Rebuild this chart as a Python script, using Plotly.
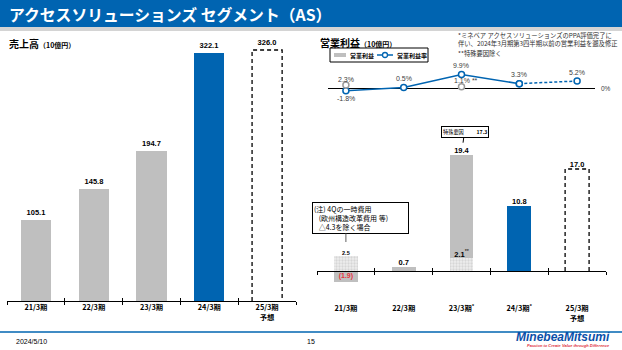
import plotly.graph_objects as go

# ---------------- data ----------------
categories = ["21/3期", "22/3期", "23/3期", "24/3期", "25/3期"]
sales_actual = [105.1, 145.8, 194.7, 322.1]
sales_forecast = 326.0

op_profit = [-1.9, 0.7, 19.4, 10.8]           # reported operating profit (actual)
op_forecast = 17.0
op_adjusted = [2.5, None, 2.1, None, None]     # excluding one-off / special factors (hatched)
special_factor_2303 = 17.3
op_margin = [-1.8, 0.5, 9.9, 3.3, 5.2]
op_margin_adjusted = [2.3, None, 1.1, None, None]

right_cat_labels = ["21/3期", "22/3期", "23/3期<sup>*</sup>", "24/3期<sup>*</sup>", "25/3期"]

# ---------------- style ----------------
W, H = 622, 350
GRAY = "#BFBFBF"
BLUE = "#0064B1"
NUMFONT = "Liberation Sans, Arial, sans-serif"
JPFONT = "Noto Sans CJK JP, sans-serif"


def X(px):
    return px / W


def Y(py):
    return 1 - py / H


idx = list(range(len(categories)))
bounds = [i - 0.5 for i in range(len(categories) + 1)]
fc_idx = len(categories) - 1

fig = go.Figure()

# ---------- left: sales ----------
LW = 0.52
fig.add_trace(go.Bar(
    x=idx[:4], y=sales_actual, width=LW,
    marker=dict(color=[GRAY, GRAY, GRAY, BLUE], line=dict(width=0)),
    text=[f"<b>{v:.1f}</b>" for v in sales_actual], textposition="outside",
    textfont=dict(size=7.5, color="black", family=NUMFONT),
    cliponaxis=False, xaxis="x", yaxis="y", showlegend=False))
fig.add_trace(go.Bar(
    x=[fc_idx], y=[sales_forecast], width=LW,
    marker=dict(color="rgba(0,0,0,0)", line=dict(width=0)),
    text=[f"<b>{sales_forecast:.1f}</b>"], textposition="outside",
    textfont=dict(size=7.5, color="black", family=NUMFONT),
    cliponaxis=False, xaxis="x", yaxis="y", showlegend=False))
fig.add_trace(go.Scatter(
    x=[fc_idx - LW / 2, fc_idx - LW / 2, fc_idx + LW / 2, fc_idx + LW / 2],
    y=[0, sales_forecast, sales_forecast, 0], mode="lines",
    line=dict(color="black", width=1.3, dash="4px,3px"),
    xaxis="x", yaxis="y", showlegend=False, hoverinfo="skip", cliponaxis=False))

# ---------- right: operating profit bars ----------
RW = 0.415
adj_x = [i for i, v in enumerate(op_adjusted) if v is not None]
adj_y = [v for v in op_adjusted if v is not None]
fig.add_trace(go.Bar(
    x=adj_x, y=adj_y, width=RW,
    marker=dict(color="#E6E6E6", line=dict(width=0),
                pattern=dict(shape=".", fgcolor="#BDBDBD", bgcolor="#EEEEEE", size=3, solidity=0.45)),
    xaxis="x4", yaxis="y4", showlegend=False))
gray_vals = [op_profit[0], op_profit[1], special_factor_2303]
fig.add_trace(go.Bar(
    x=[0, 1, 2], y=gray_vals, width=RW,
    marker=dict(color=GRAY, line=dict(width=0)),
    xaxis="x4", yaxis="y4", showlegend=False))
fig.add_trace(go.Bar(
    x=[3], y=[op_profit[3]], width=RW,
    marker=dict(color=BLUE, line=dict(width=0)),
    xaxis="x4", yaxis="y4", showlegend=False))
fig.add_trace(go.Scatter(
    x=[fc_idx - RW / 2, fc_idx - RW / 2, fc_idx + RW / 2, fc_idx + RW / 2],
    y=[0, op_forecast, op_forecast, 0], mode="lines",
    line=dict(color="black", width=1.3, dash="4px,3px"),
    xaxis="x4", yaxis="y4", showlegend=False, hoverinfo="skip", cliponaxis=False))

# value labels
lab_x = [1, 2, 3, 4]
lab_y = [op_profit[1], op_profit[2], op_profit[3], op_forecast]
fig.add_trace(go.Scatter(
    x=lab_x, y=lab_y, mode="text",
    text=[f"<b>{v:.1f}</b>" for v in lab_y], textposition="top center",
    textfont=dict(size=7.5, color="black", family=NUMFONT),
    xaxis="x4", yaxis="y4", showlegend=False, cliponaxis=False, hoverinfo="skip"))
fig.add_trace(go.Scatter(
    x=[0], y=[op_adjusted[0]], mode="text",
    text=[f"<b>{op_adjusted[0]:.1f}</b>"], textposition="top center",
    textfont=dict(size=5.5, color="black", family=NUMFONT),
    xaxis="x4", yaxis="y4", showlegend=False, cliponaxis=False, hoverinfo="skip"))
fig.add_trace(go.Scatter(
    x=[2], y=[op_adjusted[2]], mode="text",
    text=[f"<b>{op_adjusted[2]:.1f}</b><sup>**</sup>"], textposition="top center",
    textfont=dict(size=7.5, color="black", family=NUMFONT),
    xaxis="x4", yaxis="y4", showlegend=False, cliponaxis=False, hoverinfo="skip"))
fig.add_trace(go.Scatter(
    x=[0], y=[op_profit[0] / 2], mode="text",
    text=[f"<b>({abs(op_profit[0]):.1f})</b>"], textposition="middle center",
    textfont=dict(size=7, color="#E8323C", family=NUMFONT),
    xaxis="x4", yaxis="y4", showlegend=False, cliponaxis=False, hoverinfo="skip"))

# ---------- right: operating margin line ----------
fig.add_trace(go.Scatter(
    x=idx[:4], y=op_margin[:4], mode="lines+markers",
    line=dict(color=BLUE, width=1.5),
    marker=dict(symbol="circle", size=6, color="white", line=dict(color=BLUE, width=1.5)),
    xaxis="x7", yaxis="y7", showlegend=False, cliponaxis=False))
fig.add_trace(go.Scatter(
    x=idx[3:], y=op_margin[3:], mode="lines+markers",
    line=dict(color=BLUE, width=1.5, dash="3px,2px"),
    marker=dict(symbol="circle", size=6, color="white", line=dict(color=BLUE, width=1.5)),
    xaxis="x7", yaxis="y7", showlegend=False, cliponaxis=False))
madj_x = [i for i, v in enumerate(op_margin_adjusted) if v is not None]
madj_y = [v for v in op_margin_adjusted if v is not None]
fig.add_trace(go.Scatter(
    x=madj_x, y=madj_y, mode="markers",
    marker=dict(symbol="circle", size=6, color="white", line=dict(color="#9A9A9A", width=1.5)),
    xaxis="x7", yaxis="y7", showlegend=False, cliponaxis=False))

# invisible helper traces so that the overlay tick/label axes are drawn
for xa, ya in [("x2", "y"), ("x3", "y"), ("x5", "y4"), ("x6", "y4")]:
    fig.add_trace(go.Scatter(x=idx, y=[None] * len(idx), mode="markers", xaxis=xa, yaxis=ya,
                             showlegend=False, hoverinfo="skip"))

# ---------------- axes ----------------
L_RANGE = [0, 339]
R_RANGE = [-3, 22]
R_DOM = [Y(289), Y(139)]
r_zero = R_DOM[0] + (0 - R_RANGE[0]) / (R_RANGE[1] - R_RANGE[0]) * (R_DOM[1] - R_DOM[0])

tick_axis = dict(range=[-0.5, 4.5], tickmode="array", tickvals=bounds, showticklabels=False,
                 ticklen=3, tickwidth=1.3, tickcolor="black", showgrid=False, zeroline=False)
label_font = dict(size=7.3, color="black", family=JPFONT)

lx_dom = [X(7), X(296)]
rx_dom = [X(317), X(606)]
line_lo = -0.5 + (328 - 317) / 57.8
line_hi = 4.5 - (606 - 595) / 57.8

fig.update_layout(
    width=W, height=H, margin=dict(l=0, r=0, t=0, b=0),
    paper_bgcolor="white", plot_bgcolor="rgba(0,0,0,0)",
    barmode="relative", bargap=0,
    showlegend=False,
    xaxis=dict(domain=lx_dom, anchor="y", ticks="outside", showline=True,
               linecolor="black", linewidth=1.3, **tick_axis),
    xaxis2=dict(domain=lx_dom, overlaying="x", anchor="y", ticks="inside", showline=False, **tick_axis),
    xaxis3=dict(domain=lx_dom, overlaying="x", anchor="free", position=Y(302), range=[-0.5, 4.5],
                tickmode="array", tickvals=idx,
                ticktext=[f"<b>{c}</b>" for c in categories[:4]] + [f"<b>{categories[4]}<br>予想</b>"],
                ticks="", showline=False, showgrid=False, zeroline=False, tickfont=label_font),
    yaxis=dict(domain=[Y(301), Y(40)], range=L_RANGE, visible=False),

    xaxis4=dict(domain=rx_dom, anchor="free", position=r_zero, ticks="outside", showline=True,
                linecolor="black", linewidth=1.3, **tick_axis),
    xaxis5=dict(domain=rx_dom, overlaying="x4", anchor="free", position=r_zero, ticks="inside",
                showline=False, **tick_axis),
    xaxis6=dict(domain=rx_dom, overlaying="x4", anchor="free", position=Y(303), range=[-0.5, 4.5],
                tickmode="array", tickvals=idx,
                ticktext=[f"<b>{c}</b>" for c in right_cat_labels[:4]] + [f"<b>{right_cat_labels[4]}<br>予想</b>"],
                ticks="", showline=False, showgrid=False, zeroline=False, tickfont=label_font),
    yaxis4=dict(domain=R_DOM, range=R_RANGE, visible=False),

    xaxis7=dict(domain=[X(328), X(595)], range=[line_lo, line_hi], anchor="y7", visible=False),
    yaxis7=dict(domain=[Y(93.9), Y(71.5)], range=[-4, 12], showgrid=False, showticklabels=False,
                showline=False, zeroline=True, zerolinecolor="black", zerolinewidth=1.3, anchor="x7"),
)

# ---------------- decorations ----------------
shapes = [
    dict(type="rect", xref="paper", yref="paper", x0=0, x1=1, y0=Y(27), y1=1,
         fillcolor=BLUE, line=dict(width=0), layer="below"),
    dict(type="rect", xref="paper", yref="paper", x0=0, x1=1, y0=Y(31), y1=Y(27),
         fillcolor="#D4D4D4", line=dict(width=0), layer="below"),
    # footer line
    dict(type="line", xref="paper", yref="paper", x0=0, x1=1, y0=Y(332), y1=Y(332),
         line=dict(color=BLUE, width=1.5)),
    # legend box
    dict(type="rect", xref="paper", yref="paper", x0=X(330), x1=X(428), y0=Y(62), y1=Y(48),
         line=dict(color="black", width=1), fillcolor="white"),
    dict(type="line", xref="paper", yref="paper", x0=X(334), x1=X(346), y0=Y(55), y1=Y(55),
         line=dict(color=GRAY, width=4)),
    dict(type="line", xref="paper", yref="paper", x0=X(377), x1=X(393), y0=Y(55), y1=Y(55),
         line=dict(color=BLUE, width=1.5)),
    dict(type="circle", xref="paper", yref="paper", x0=X(382.5), x1=X(387.5), y0=Y(57.5), y1=Y(52.5),
         line=dict(color=BLUE, width=1.3), fillcolor="white"),
]
fig.update_layout(shapes=shapes)

ann = []
ann.append(dict(text="<b>アクセスソリューションズ セグメント（AS）</b>", x=X(7), y=Y(14),
                xref="paper", yref="paper", xanchor="left", yanchor="middle", showarrow=False,
                font=dict(size=15.8, color="white", family=JPFONT)))
ann.append(dict(text="<b>売上高</b><span style='font-size:7px'><b>（10億円）</b></span>", x=X(7), y=Y(44),
                xref="paper", yref="paper", xanchor="left", yanchor="middle", showarrow=False,
                font=dict(size=10, color="black", family=JPFONT)))
ann.append(dict(text="<b>営業利益</b><span style='font-size:7px'><b>（10億円）</b></span>", x=X(318), y=Y(42),
                xref="paper", yref="paper", xanchor="left", yanchor="middle", showarrow=False,
                font=dict(size=10, color="black", family=JPFONT)))
ann.append(dict(text="*ミネベア アクセスソリューションズのPPA評価完了に<br>伴い、2024年3月期第3四半期以前の営業利益を遡及修正",
                x=X(456), y=Y(39), xref="paper", yref="paper", xanchor="left", yanchor="middle",
                showarrow=False, align="left", font=dict(size=6.3, color="#303030", family=JPFONT)))
ann.append(dict(text="**特殊要因除く", x=X(456), y=Y(53), xref="paper", yref="paper",
                xanchor="left", yanchor="middle", showarrow=False,
                font=dict(size=6.3, color="#303030", family=JPFONT)))
# legend texts
ann.append(dict(text="<b>営業利益</b>", x=X(348), y=Y(55), xref="paper", yref="paper",
                xanchor="left", yanchor="middle", showarrow=False,
                font=dict(size=6, color="black", family=JPFONT)))
ann.append(dict(text="<b>営業利益率</b>", x=X(395), y=Y(55), xref="paper", yref="paper",
                xanchor="left", yanchor="middle", showarrow=False,
                font=dict(size=6, color="black", family=JPFONT)))
# margin labels (from data)
lab_font = dict(size=7, color="#404040", family=NUMFONT)
for i, v in enumerate(op_margin):
    shift = -8 if v < 0 else 9
    ann.append(dict(text=f"{v:.1f}%", x=i, y=v, xref="x7", yref="y7", showarrow=False,
                    yshift=shift, yanchor="middle", font=lab_font))
for i, v in enumerate(op_margin_adjusted):
    if v is None:
        continue
    txt = f"{v:.1f}%" if i == 0 else f"{v:.1f}% **"
    ann.append(dict(text=txt, x=i, y=v, xref="x7", yref="y7", showarrow=False,
                    yshift=6, xshift=0 if i == 0 else 5, yanchor="middle", font=lab_font))
# 0% label
ann.append(dict(text="0%", x=X(606), y=0, xref="paper", yref="y7", xanchor="center", yanchor="middle",
                showarrow=False, font=dict(size=6.5, color="#404040", family=NUMFONT)))
# special factor box (23/3)
ann.append(dict(text="特殊要因\u00a0\u00a0\u00a0\u00a0\u00a0\u00a0\u00a0\u00a0\u00a0\u00a0\u00a0<b>%.1f</b>" % special_factor_2303,
                x=2, y=op_profit[2], xref="x4", yref="y4", showarrow=True, arrowhead=0, arrowwidth=1,
                arrowcolor="black", ax=3, ay=-23, standoff=12, bordercolor="black", borderwidth=1,
                borderpad=1, bgcolor="white", font=dict(size=5.2, color="black", family=JPFONT)))
# note box (21/3)
ann.append(dict(text="(注) 4Qの一時費用<br>\u00a0\u00a0\u00a0(欧州構造改革費用 等)<br>\u00a0\u00a0\u00a0△4.3を除く場合",
                x=X(360), y=Y(218), xref="paper", yref="paper", xanchor="center", yanchor="middle",
                align="left", showarrow=False, bordercolor="black", borderwidth=1, borderpad=1,
                width=93, bgcolor="white", font=dict(size=7, color="black", family=JPFONT)))
ann.append(dict(text="", x=0, y=op_adjusted[0], xref="x4", yref="y4", showarrow=True, arrowhead=0,
                arrowwidth=1, arrowcolor="#606060", ax=0, ay=-24, standoff=14))
# footer
ann.append(dict(text="2024/5/10", x=X(14), y=Y(341), xref="paper", yref="paper", xanchor="left",
                yanchor="middle", showarrow=False, font=dict(size=7, color="black", family=NUMFONT)))
ann.append(dict(text="15", x=X(311), y=Y(341), xref="paper", yref="paper", xanchor="center",
                yanchor="middle", showarrow=False, font=dict(size=7, color="black", family=NUMFONT)))
ann.append(dict(text="<b><i>MinebeaMitsumi</i></b>", x=X(612), y=Y(337), xref="paper", yref="paper",
                xanchor="right", yanchor="middle", showarrow=False,
                font=dict(size=12, color="#0A4FA8", family=NUMFONT)))
ann.append(dict(text="<b><i>Passion to Create Value through Difference</i></b>", x=X(612), y=Y(345.5),
                xref="paper", yref="paper", xanchor="right", yanchor="middle", showarrow=False,
                font=dict(size=4, color="#E03040", family=NUMFONT)))
fig.update_layout(annotations=ann)

fig.write_html("out.html")
